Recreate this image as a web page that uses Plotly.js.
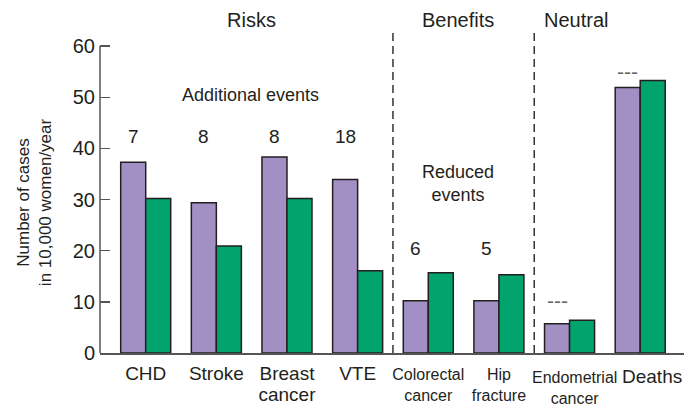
<!DOCTYPE html>
<html>
<head>
<meta charset="utf-8">
<script src="https://cdn.plot.ly/plotly-3.0.1.min.js"></script>
<style>html,body{margin:0;padding:0;background:#fff;}#chart{width:695px;height:408px;}</style>
</head>
<body>
<div id="chart"></div>
<script>
// ---- data ----
const categories = ['CHD', 'Stroke', 'Breast cancer', 'VTE', 'Colorectal cancer', 'Hip fracture', 'Endometrial cancer', 'Deaths'];
const BIG = '<span style="font-size:19px">';
// last two labels are drawn as shifted annotations (they sit off-centre in the original)
const tickLabels = [BIG + 'CHD</span>', BIG + 'Stroke</span>', BIG + 'Breast</span><br>' + BIG + 'cancer</span>', BIG + 'VTE</span>',
  'Colorectal<br>cancer', 'Hip<br>fracture', '', ''];
const shiftedLabels = [['Endometrial cancer', 'Endometrial<br>cancer', 16, 5, -0.1085],
                       ['Deaths', 'Deaths', 19, 12, -0.0742]];
const hrtValues = [37.3, 29.4, 38.3, 33.9, 10.2, 10.2, 5.7, 51.9];
const placeboValues = [30.2, 20.9, 30.2, 16.1, 15.7, 15.3, 6.4, 53.3];
const eventDiffs = [7, 8, 8, 18, 6, 5, null, null];
const groupTitles = ['Risks', 'Benefits', 'Neutral'];
const yTicks = [0, 10, 20, 30, 40, 50, 60];
const yTitle = 'Number of cases<br>in 10,000 women/year';

const FONT = 'Liberation Sans, Arial, Helvetica, sans-serif';
const INK = '#231f20';

const traces = [
  {type: 'bar', name: 'Estrogen + progestin', x: categories, y: hrtValues,
   marker: {color: '#a290c5', line: {color: INK, width: 1.5}}, hoverinfo: 'x+y'},
  {type: 'bar', name: 'Placebo', x: categories, y: placeboValues,
   marker: {color: '#00a46c', line: {color: INK, width: 1.5}}, hoverinfo: 'x+y'}
];

const annotations = [];
// section titles (above the plot area)
const titlePos = [1.50, 4.42, 6.09];
groupTitles.forEach((t, i) => annotations.push({
  text: t, x: titlePos[i], y: 1.0374, xref: 'x', yref: 'paper', showarrow: false,
  xanchor: 'center', yanchor: 'middle',
  font: {family: FONT, size: 20, color: INK}
}));
annotations.push({text: 'Additional events', x: 1.48, y: 50.4, xref: 'x', yref: 'y', showarrow: false,
  font: {family: FONT, size: 18, color: INK}});
annotations.push({text: 'Reduced<br>events', x: 4.42, y: 33.2, xref: 'x', yref: 'y', showarrow: false,
  font: {family: FONT, size: 18, color: INK}});
eventDiffs.forEach((d, i) => {
  if (d === null) return;
  annotations.push({text: String(d), x: categories[i], y: i < 4 ? 42.4 : 20.5, xref: 'x', yref: 'y',
    xshift: -12.5, showarrow: false, font: {family: FONT, size: 19, color: INK}});
});
// "no difference" dashes for neutral outcomes
[[6, 10.3], [7, 55.1]].forEach(([i, yv]) => annotations.push({
  text: '---', x: categories[i], y: yv, xref: 'x', yref: 'y', xshift: -12.5, showarrow: false,
  font: {family: FONT, size: 21, color: '#666'}
}));
// shifted category labels
shiftedLabels.forEach(([cat, txt, size, dx, py]) => annotations.push({
  text: txt, x: cat, y: py, xref: 'x', yref: 'paper', xshift: dx, showarrow: false,
  xanchor: 'center', yanchor: 'middle', borderpad: 0,
  font: {family: FONT, size: size, color: INK}
}));
// y-axis title
annotations.push({text: yTitle, x: -0.113, y: 29.5, xref: 'paper', yref: 'y', textangle: -90,
  showarrow: false, xanchor: 'center', yanchor: 'middle',
  font: {family: FONT, size: 17, color: INK}});

const shapes = [
  {type: 'line', xref: 'x', yref: 'y', x0: 3.5, x1: 3.5, y0: 0, y1: 62.76,
   line: {color: '#333', width: 1.5, dash: '8px,5px'}},
  {type: 'line', xref: 'x', yref: 'y', x0: 5.5, x1: 5.5, y0: 0, y1: 62.76,
   line: {color: '#333', width: 1.5, dash: '8px,5px'}},
  {type: 'line', xref: 'paper', yref: 'y', x0: 0, x1: 0, y0: 0, y1: 60,
   line: {color: '#555', width: 1.5}}
];

const layout = {
  width: 695, height: 408,
  margin: {l: 100, r: 11, t: 32, b: 55},
  paper_bgcolor: '#fff', plot_bgcolor: '#fff',
  showlegend: false,
  barmode: 'group', bargap: 0.292, bargroupgap: 0,
  font: {family: FONT, color: INK},
  xaxis: {
    type: 'category', categoryorder: 'array', categoryarray: categories,
    tickvals: categories, ticktext: tickLabels, tickangle: 0,
    range: [-0.647, 7.62], showline: true, linecolor: '#555', linewidth: 2,
    ticks: '', showgrid: false, zeroline: false, ticklabelstandoff: 6,
    tickfont: {family: FONT, size: 16, color: INK}
  },
  yaxis: {
    range: [0, 62.76], tickvals: yTicks, ticks: 'inside', ticklen: 10, tickwidth: 1.5,
    tickcolor: '#555', showline: false, showgrid: false, zeroline: false, ticklabelstandoff: 4,
    tickfont: {family: FONT, size: 20, color: INK}
  },
  annotations: annotations,
  shapes: shapes
};

Plotly.newPlot('chart', traces, layout, {displayModeBar: false, staticPlot: true});
</script>
</body>
</html>
